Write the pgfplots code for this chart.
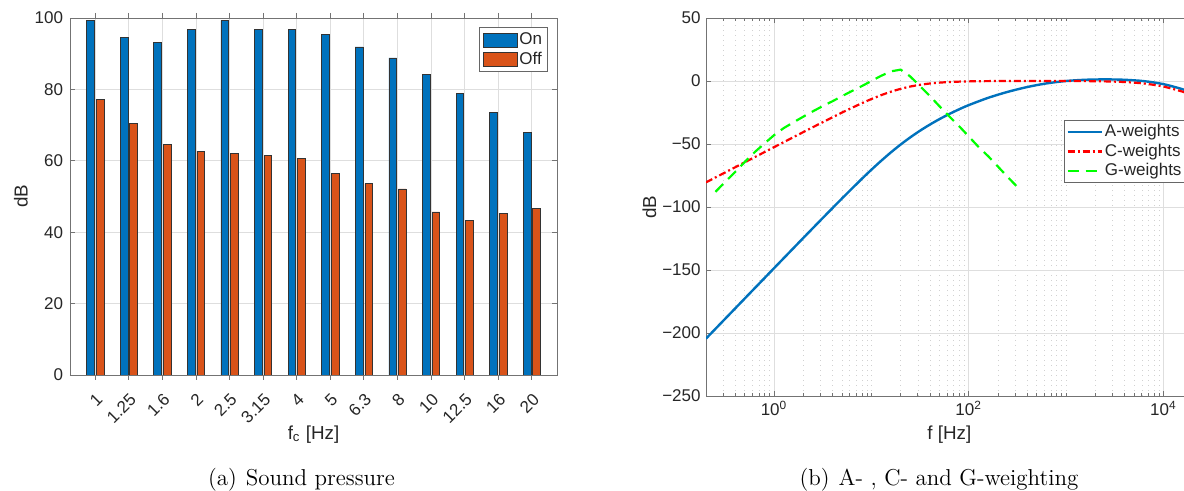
\documentclass[border=0pt]{standalone}
\usepackage{fontspec}
\usepackage{pgfplots}
\pgfplotsset{compat=1.18}
\newfontfamily\chartfont{Liberation Sans}
\definecolor{mblue}{RGB}{0,114,189}
\definecolor{morange}{RGB}{217,83,25}
\definecolor{mred}{RGB}{255,0,0}
\definecolor{mgreen}{RGB}{0,255,0}
\definecolor{txt}{RGB}{38,38,38}
\newcommand\tickfont{\chartfont\fontsize{8.5}{10}\selectfont}
\newcommand\labfont{\chartfont\fontsize{9.4}{11}\selectfont}
\newcommand\ls{\rule[-1.9pt]{0pt}{8.2pt}}
\pgfplotsset{mstyle/.style={
  scale only axis,
  axis line style={draw=black!55, line width=0.4pt},
  tick style={draw=black!55, line width=0.4pt},
  tick align=inside,
  major tick length=2.5pt,
  minor tick length=1.5pt,
  tick label style={font=\tickfont, text=txt},
  label style={font=\labfont, text=txt},
  major grid style={draw=black!13, line width=0.4pt},
  minor grid style={draw=black!18, line width=0.3pt, dash pattern=on 0.5pt off 2pt},
  legend cell align=left,
  legend style={font=\tickfont, text=txt, draw=black!60, fill=white, line width=0.4pt,
    inner xsep=0.85pt, inner ysep=0.9pt, row sep=0pt, nodes={inner sep=1pt}},
}}
\begin{document}
\begin{tikzpicture}
\begin{axis}[mstyle, name=left, at={(0pt,0pt)}, anchor=south west,
  width=243.5pt, height=178.5pt,
  ybar, bar width=0.2286,
  xmin=-0.75, xmax=13.75, ymin=0, ymax=100,
  xtick={0,1,2,3,4,5,6,7,8,9,10,11,12,13},
  xticklabels={1,1.25,1.6,2,2.5,3.15,4,5,6.3,8,10,12.5,16,20},
  ytick={0,20,40,60,80,100}, yticklabels={0,20,40,60,80,100},
  xmajorgrids, ymajorgrids,
  xticklabel style={rotate=45, anchor=north east, inner sep=0pt},
  xticklabel shift=6pt,
  yticklabel style={inner sep=0pt}, yticklabel shift=3.3pt,
  xlabel={f\textsubscript{c} [Hz]}, ylabel={dB},
  xlabel style={at={(axis description cs:0.5,-0.1807)}, anchor=base},
  ylabel style={at={(axis description cs:-0.1006,0.5)}, anchor=center},
  legend style={at={(1,1)}, anchor=north east, xshift=-4.65pt, yshift=-4.65pt, inner xsep=1.6pt, inner ysep=1.2pt},
]
\addplot[fill=mblue, draw=black!80, line width=0.3pt, bar shift=-0.1429,
  legend image code/.code={\draw[fill=mblue, draw=black!80, line width=0.3pt] (0pt,-3.5pt) rectangle (17pt,3.5pt);}]
coordinates {(0,99.35) (1,94.6) (2,93.2) (3,96.8) (4,99.3) (5,96.8) (6,96.8) (7,95.5) (8,91.9) (9,88.8) (10,84.3) (11,78.9) (12,73.6) (13,68.0)};
\addlegendentry{\ls On}
\addplot[fill=morange, draw=black!80, line width=0.3pt, bar shift=0.1429,
  legend image code/.code={\draw[fill=morange, draw=black!80, line width=0.3pt] (0pt,-3.5pt) rectangle (17pt,3.5pt);}]
coordinates {(0,77.3) (1,70.4) (2,64.7) (3,62.7) (4,62.1) (5,61.6) (6,60.7) (7,56.4) (8,53.6) (9,52.1) (10,45.7) (11,43.2) (12,45.2) (13,46.7)};
\addlegendentry{\ls Off}
\end{axis}

\begin{axis}[mstyle, at={(318pt,-10.5pt)}, anchor=south west,
  width=243.35pt, height=189pt,
  xmode=log, xmin=0.2, xmax=20000, ymin=-250, ymax=50,
  xtick={1,100,10000},
  xticklabels={10\textsuperscript{0},10\textsuperscript{2},10\textsuperscript{4}},
  minor xtick={0.3,0.4,0.5,0.6,0.7,0.8,0.9,2,3,4,5,6,7,8,9,10,20,30,40,50,60,70,80,90,200,300,400,500,600,700,800,900,1000,2000,3000,4000,5000,6000,7000,8000,9000},
  ytick={-250,-200,-150,-100,-50,0,50},
  yticklabels={−250,−200,−150,−100,−50,0,50},
  xmajorgrids, xminorgrids, ymajorgrids,
  xticklabel style={anchor=north, inner sep=0pt}, xticklabel shift=2.5pt,
  yticklabel style={inner sep=0pt}, yticklabel shift=2.5pt,
  xlabel={f [Hz]}, ylabel={dB},
  xlabel style={at={(axis description cs:0.5,-0.1164)}, anchor=base},
  ylabel style={at={(axis description cs:-0.1161,0.5)}, anchor=center},
  legend style={at={(0.7362,0.7302)}, anchor=north west},
]
\addplot[color=mblue, line width=1.2pt, smooth] coordinates {
(0.2,-204.48) (0.3162,-188.56) (0.5012,-172.56) (0.7943,-156.57) (1.2589,-140.59)
(1.9953,-124.64) (3.1623,-108.77) (5.0119,-93.07) (7.9433,-77.79) (10,-70.44)
(12.589,-63.38) (15.849,-56.69) (19.953,-50.46) (25.119,-44.71) (31.623,-39.44)
(39.811,-34.63) (50.119,-30.23) (63.096,-26.20) (79.433,-22.51) (100,-19.15)
(158.49,-13.35) (251.19,-8.63) (398.11,-4.81) (630.96,-1.90) (1000,0.00)
(1584.9,0.98) (2511.9,1.27) (3981.1,0.97) (6309.6,-0.12) (10000,-2.49)
(15849,-6.60) (19953,-9.32)};
\addlegendentry{\ls A-weights}
\addplot[color=mred, line width=1.1pt, smooth, dash pattern=on 3.5pt off 1.5pt on 1pt off 1.5pt] coordinates {
(0.2,-80.45) (0.3162,-72.50) (0.5012,-64.50) (0.7943,-56.51) (1.2589,-48.53)
(1.9953,-40.58) (3.1623,-32.70) (5.0119,-24.99) (7.9433,-17.70) (10,-14.33)
(12.589,-11.25) (15.849,-8.53) (19.953,-6.24) (25.119,-4.41) (31.623,-3.01)
(39.811,-2.00) (50.119,-1.30) (63.096,-0.82) (79.433,-0.51) (100,-0.30)
(158.49,-0.09) (251.19,0.00) (398.11,0.03) (630.96,0.03) (1000,0.00)
(1584.9,-0.09) (2511.9,-0.30) (3981.1,-0.82) (6309.6,-2.00) (10000,-4.41)
(15849,-8.53) (19953,-11.25)};
\addlegendentry{\ls C-weights}
\addplot[color=mgreen, line width=1.1pt, dash pattern=on 5.5pt off 3.5pt] coordinates {
(0.25,-88.0) (0.315,-80.0) (0.4,-72.1) (0.5,-64.3) (0.63,-56.6) (0.8,-49.5)
(1,-43.0) (1.25,-37.5) (1.6,-32.6) (2,-28.3) (2.5,-24.1) (3.15,-20.0)
(4,-16.0) (5,-12.0) (6.3,-8.0) (8,-4.0) (10,0.0) (12.5,4.0) (16,7.7)
(20,9.0) (25,3.7) (31.5,-4.0) (40,-12.0) (50,-20.0) (63,-28.0) (80,-36.0)
(100,-44.0) (125,-52.0) (160,-60.0) (200,-68.0) (250,-76.0) (315,-84.0)};
\addlegendentry{\ls G-weights}
\end{axis}

\node[font=\fontsize{11.5}{13.5}\selectfont, anchor=base] at (115.75pt,-55.25pt) {(a)\hspace{4.5pt}Sound pressure};
\node[font=\fontsize{11.5}{13.5}\selectfont, anchor=base] at (434.5pt,-55.25pt) {(b)\hspace{4.5pt}A- , C- and G-weighting};

\pgfresetboundingbox
\path[use as bounding box] (-35pt,-58pt) rectangle (557pt,187.5pt);
\end{tikzpicture}
\end{document}
